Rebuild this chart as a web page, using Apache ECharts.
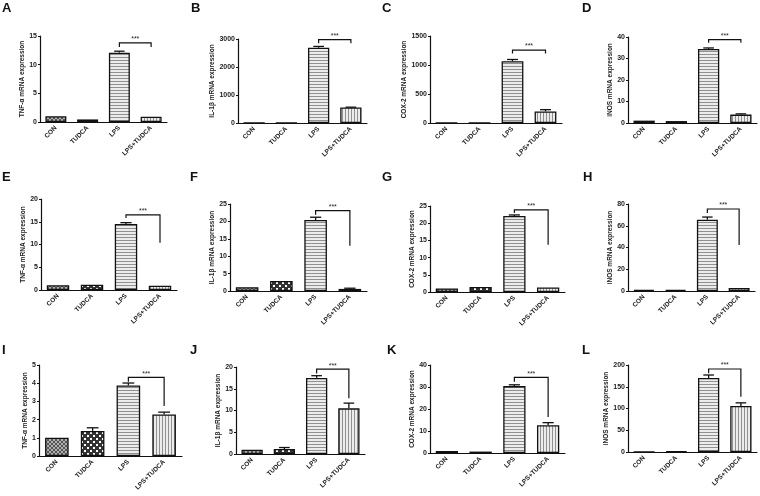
<!DOCTYPE html>
<html><head><meta charset="utf-8">
<script src="https://cdn.jsdelivr.net/npm/echarts@6/dist/echarts.min.js"></script>
<style>html,body{margin:0;padding:0;background:#fff}#c{width:760px;height:496px}</style>
</head><body><div id="c"></div>
<script>
// ---------- data ----------
const categories = ['CON', 'TUDCA', 'LPS', 'LPS+TUDCA'];
const panelLetters = ['A','B','C','D','E','F','G','H','I','J','K','L'];
const yTitles = ['TNF-α mRNA expression','IL-1β mRNA expression','COX-2 mRNA expression','iNOS mRNA expression',
                 'TNF-α mRNA expression','IL-1β mRNA expression','COX-2 mRNA expression','iNOS mRNA expression',
                 'TNF-α mRNA expression','IL-1β mRNA expression','COX-2 mRNA expression','iNOS mRNA expression'];
const yMax      = [15, 3000, 1500, 40, 20, 25, 25, 80, 5, 20, 40, 200];
const yInterval = [5, 1000, 500, 10, 5, 5, 5, 20, 1, 5, 10, 50];

const valuesA = [1.0, 0.45, 12.1, 0.93];   const errorsA = [0, 0, 0.25, 0];
const valuesB = [1, 1, 2690, 555];         const errorsB = [0, 0, 45, 10];
const valuesC = [1, 1, 1065, 200];         const errorsC = [0, 0, 30, 30];
const valuesD = [1.1, 0.9, 34.4, 3.9];     const errorsD = [0, 0, 0.5, 0.35];
const valuesE = [1.05, 1.15, 14.5, 0.95];  const errorsE = [0, 0, 0.3, 0];
const valuesF = [1.1, 2.9, 20.4, 0.6];     const errorsF = [0, 0, 0.8, 0.2];
const valuesG = [1.05, 1.45, 22.1, 1.3];   const errorsG = [0, 0, 0.3, 0];
const valuesH = [0.9, 0.9, 65.6, 2.7];     const errorsH = [0, 0, 2.4, 0];
const valuesI = [1.0, 1.38, 3.88, 2.28];   const errorsI = [0, 0.17, 0.13, 0.13];
const valuesJ = [1.0, 1.14, 17.5, 10.5];   const errorsJ = [0, 0.35, 0.5, 1.2];
const valuesK = [0.9, 0.65, 30.4, 12.6];   const errorsK = [0, 0, 0.6, 1.2];
const valuesL = [0.8, 1.5, 170, 106];      const errorsL = [0, 0, 7, 7];

// significance bracket: [bracket level, left leg end, right leg end]
const bracketA = [13.8, 13.1, 13.1];
const bracketB = [2980, 2850, 2850];
const bracketC = [1258, 1200, 1200];
const bracketD = [38.8, 37.3, 37.3];
const bracketE = [16.5, 15.8, 10.4];
const bracketF = [23.1, 21.9, 13.0];
const bracketG = [23.9, 23.0, 13.7];
const bracketH = [75.4, 71.7, 42.3];
const bracketI = [4.32, 4.08, 2.75];
const bracketJ = [19.5, 18.5, 12.8];
const bracketK = [34.4, 32.4, 16.4];
const bracketL = [190.8, 180.8, 127];
const starText = '***';

const allValues   = [valuesA,valuesB,valuesC,valuesD,valuesE,valuesF,valuesG,valuesH,valuesI,valuesJ,valuesK,valuesL];
const allErrors   = [errorsA,errorsB,errorsC,errorsD,errorsE,errorsF,errorsG,errorsH,errorsI,errorsJ,errorsK,errorsL];
const allBrackets = [bracketA,bracketB,bracketC,bracketD,bracketE,bracketF,bracketG,bracketH,bracketI,bracketJ,bracketK,bracketL];

// ---------- layout ----------
const gridBoxes = [
  [40,36,127,86],[238,39,129,84],[430,36,132,87],[628,37,129,86],
  [41,199,136,91],[230,204,137,87],[430,206,135,86],[628,204,127,87],
  [39,365,143,91],[236,367,129,87],[430,365,135,88],[628,365,129,87]
];
const titleDist = [16.5,24,20,16.5,17,11.5,15.5,16.5,11,16.5,15,19];
const letterPos = [[2,4],[191,4],[382,4],[582,4],[2,173],[190,173],[382,173],[583,173],[2,346],[190,346],[387,346],[582,346]];
const FONT = 'Liberation Sans';

function makePattern(w, h, draw) {
  const c = document.createElement('canvas'); c.width = w; c.height = h;
  draw(c.getContext('2d'));
  return { image: c, repeat: 'repeat' };
}
const patterns = [
  makePattern(4, 4, g => { g.fillStyle = '#b0b0b0'; g.fillRect(0,0,4,4); g.fillStyle = '#555';
    for (let i = 0; i < 4; i++) { g.fillRect(i, i, 1, 1); g.fillRect(3 - i, i, 1, 1); } }),
  makePattern(6, 6, g => { g.fillStyle = '#333'; g.fillRect(0,0,6,6); g.fillStyle = '#fff';
    g.fillRect(0,0,2,2); g.fillRect(3,3,2,2); }),
  makePattern(4, 3, g => { g.fillStyle = '#ececec'; g.fillRect(0,0,4,3); g.fillStyle = '#909090'; g.fillRect(0,0,4,1); }),
  makePattern(3, 4, g => { g.fillStyle = '#ececec'; g.fillRect(0,0,3,4); g.fillStyle = '#909090'; g.fillRect(0,0,1,4); })
];

const BAR_W = 0.66;
const grids = [], xAxes = [], yAxes = [], series = [], graphics = [];
for (let i = 0; i < 12; i++) {
  const b = gridBoxes[i];
  grids.push({ left: b[0], top: b[1], width: b[2], height: b[3], containLabel: false });
  xAxes.push({
    type: 'category', gridIndex: i, data: categories,
    axisLine: { lineStyle: { color: '#111', width: 1.2 } },
    axisTick: { alignWithLabel: true, length: 3, lineStyle: { color: '#111', width: 1 } },
    axisLabel: { rotate: 45, interval: 0, fontSize: 6.5, fontWeight: 'bold', color: '#222', margin: 5, fontFamily: FONT }
  });
  yAxes.push({
    type: 'value', gridIndex: i, min: 0, max: yMax[i], interval: yInterval[i],
    axisLine: { show: true, lineStyle: { color: '#111', width: 1.2 } },
    axisTick: { show: true, length: 2, lineStyle: { color: '#111', width: 1 } },
    splitLine: { show: false },
    axisLabel: { fontSize: 7, fontWeight: 'bold', color: '#222', margin: 3, fontFamily: FONT,
                 formatter: v => String(v) },
    name: yTitles[i], nameLocation: 'middle', nameGap: titleDist[i] - 3,
    nameTextStyle: { fontSize: 6.5, fontWeight: 'bold', color: '#222', fontFamily: FONT }
  });
  series.push({
    type: 'bar', xAxisIndex: i, yAxisIndex: i, barWidth: (BAR_W * 100) + '%', silent: true,
    itemStyle: { borderColor: '#111', borderWidth: 1.3 },
    data: allValues[i].map((v, k) => ({ value: v, itemStyle: { color: patterns[k] } }))
  });
  series.push({
    type: 'custom', xAxisIndex: i, yAxisIndex: i, silent: true, z: 5,
    data: allValues[i].map((v, k) => [k, v, allErrors[i][k]]),
    renderItem: (params, api) => {
      const k = api.value(0), m = api.value(1), e = api.value(2);
      if (!e) return null;
      const p0 = api.coord([k, m]), p1 = api.coord([k, m + e]);
      const hw = api.size([1, 0])[0] * BAR_W * 0.25;
      const st = { stroke: '#111', lineWidth: 1.3 };
      return { type: 'group', children: [
        { type: 'line', shape: { x1: p0[0], y1: p0[1], x2: p1[0], y2: p1[1] }, style: st },
        { type: 'line', shape: { x1: p1[0] - hw, y1: p1[1], x2: p1[0] + hw, y2: p1[1] }, style: st }
      ]};
    }
  });
  const br = allBrackets[i];
  series.push({
    type: 'custom', xAxisIndex: i, yAxisIndex: i, silent: true, z: 6, clip: false,
    data: [[2, 3, br[0], br[1], br[2]]],
    renderItem: (params, api) => {
      const xa = api.value(0), xb = api.value(1), top = api.value(2), le = api.value(3), re = api.value(4);
      const a = api.coord([xa, le]), b = api.coord([xa, top]), c = api.coord([xb, top]), d = api.coord([xb, re]);
      return { type: 'group', children: [
        { type: 'polyline', shape: { points: [a, b, c, d] }, style: { stroke: '#111', lineWidth: 1.2, fill: null } },
        { type: 'text', x: (b[0] + c[0]) / 2, y: b[1] - 3.5,
          style: { text: starText, fontSize: 7, fontFamily: FONT, fill: '#222', align: 'center', verticalAlign: 'middle' } }
      ]};
    }
  });
  graphics.push({ type: 'text', left: letterPos[i][0], top: letterPos[i][1] - 2,
    style: { text: panelLetters[i], font: 'bold 13px ' + FONT, fill: '#111' } });
}

const chart = echarts.init(document.getElementById('c'), null, { renderer: 'canvas' });
chart.setOption({
  animation: false, backgroundColor: '#fff',
  grid: grids, xAxis: xAxes, yAxis: yAxes, series: series, graphic: graphics
});
</script></body></html>
